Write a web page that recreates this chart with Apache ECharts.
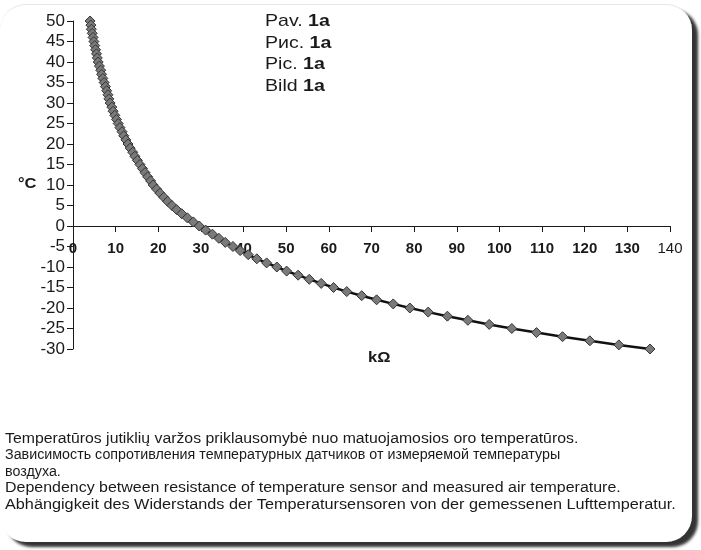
<!DOCTYPE html>
<html>
<head>
<meta charset="utf-8">
<script src="https://cdn.jsdelivr.net/npm/echarts@6/dist/echarts.min.js"></script>
<style>
  html, body { margin: 0; padding: 0; background: #ffffff; }
  #wrap { position: relative; width: 701px; height: 550px; overflow: hidden; }
  #card { position: absolute; left: 0px; top: 4px; width: 692px; height: 537px;
          background: #fff; border-radius: 26px; border-top: 1px solid #e6e6e6;
          box-shadow: 6px 5px 3px rgba(0,0,0,0.8); }
  #chart { position: absolute; left: 0; top: 0; width: 701px; height: 550px; }
</style>
</head>
<body>
<div id="wrap">
  <div id="card"></div>
  <div id="chart"></div>
</div>
<script>
// Temperature (°C) and sensor resistance (kΩ)
const temperatures = [50,49,48,47,46,45,44,43,42,41,40,39,38,37,36,35,34,33,32,31,30,29,28,27,26,25,24,23,22,21,20,19,18,17,16,15,14,13,12,11,10,9,8,7,6,5,4,3,2,1,0,-1,-2,-3,-4,-5,-6,-7,-8,-9,-10,-11,-12,-13,-14,-15,-16,-17,-18,-19,-20,-21,-22,-23,-24,-25,-26,-27,-28,-29,-30];
const resistances = [4.0,4.2,4.3,4.5,4.7,4.9,5.1,5.3,5.5,5.7,5.9,6.2,6.5,6.7,7.0,7.3,7.6,7.9,8.2,8.4,8.7,9.1,9.4,9.8,10.2,10.6,11.0,11.5,11.9,12.4,12.9,13.4,14.0,14.5,15.1,15.7,16.3,16.9,17.5,18.2,18.8,19.6,20.4,21.3,22.2,23.2,24.3,25.5,26.8,28.2,29.6,31.1,32.7,34.2,35.7,37.5,39.2,41.1,43.1,45.4,47.8,50.1,52.8,55.4,58.2,61.1,64.2,67.7,71.2,75.1,79.0,83.3,87.8,92.6,97.6,102.9,108.7,114.8,121.2,128.0,135.3];
const xMin = 0, xMax = 140, xStep = 10;
const yMin = -30, yMax = 50, yStep = 5;
const figureLabels = [["Pav. ", "1a"], ["Рис. ", "1a"], ["Pic. ", "1a"], ["Bild ", "1a"]];
const captionLines = [
  "Temperatūros jutiklių varžos priklausomybė nuo matuojamosios oro temperatūros.",
  "Зависимость сопротивления температурных датчиков от измеряемой температуры",
  "воздуха.",
  "Dependency between resistance of temperature sensor and measured air temperature.",
  "Abhängigkeit des Widerstands der Temperatursensoren von der gemessenen Lufttemperatur."
];
const captionScale = [1.13, 1.02, 1.02, 1.14, 1.16];
const yAxisName = "°C";
const xAxisName = "kΩ";

const FONT = "'Liberation Sans', Arial, sans-serif";
const INK = '#1a1a1a';
const seriesData = resistances.map((r, i) => [r, temperatures[i]]);

const W = 701, H = 550;
const gridTop = 21, gridBottom = 201, gridLeft = 73, gridRight = 31;
const plotH = H - gridTop - gridBottom;
const zeroOffset = -plotH * (0 - yMin) / (yMax - yMin);

const graphics = [];
figureLabels.forEach((p, i) => {
  graphics.push({
    type: 'text', x: 265, y: 13 + i * 21.5, scaleX: 1.15,
    style: { text: '{n|' + p[0] + '}{b|' + p[1] + '}',
      rich: { n: { fontFamily: FONT, fontSize: 17, fill: INK },
              b: { fontFamily: FONT, fontSize: 17, fontWeight: 'bold', fill: INK } } }
  });
});
captionLines.forEach((t, i) => {
  graphics.push({
    type: 'text', x: 5, y: 432 + i * 16.5, scaleX: captionScale[i],
    style: { text: t, fontFamily: FONT, fontSize: 14, fill: INK }
  });
});
graphics.push({ type: 'text', x: 18, y: 176, scaleX: 1.1,
  style: { text: yAxisName, fontFamily: FONT, fontSize: 15, fontWeight: 'bold', fill: INK } });
graphics.push({ type: 'text', x: 368, y: 350, scaleX: 1.1,
  style: { text: xAxisName, fontFamily: FONT, fontSize: 15, fontWeight: 'bold', fill: INK } });

const chart = echarts.init(document.getElementById('chart'));
chart.setOption({
  backgroundColor: 'transparent',
  animation: false,
  grid: { left: gridLeft, right: gridRight, top: gridTop, bottom: gridBottom },
  xAxis: {
    type: 'value', min: xMin, max: xMax, interval: xStep,
    offset: zeroOffset,
    axisLine: { onZero: false, lineStyle: { color: INK, width: 1 } },
    axisTick: { show: true, length: 6, lineStyle: { color: INK } },
    splitLine: { show: false },
    axisLabel: {
      margin: 15, fontFamily: FONT, fontSize: 15, color: INK,
      formatter: v => v < xMax ? '{b|' + v + '}' : '{n|' + v + '}',
      rich: { b: { fontFamily: FONT, fontSize: 15, fontWeight: 'bold', color: INK },
              n: { fontFamily: FONT, fontSize: 15, color: INK } }
    }
  },
  yAxis: {
    type: 'value', min: yMin, max: yMax, interval: yStep,
    axisLine: { show: true, onZero: false, lineStyle: { color: INK, width: 1 } },
    axisTick: { show: true, length: 6, lineStyle: { color: INK } },
    splitLine: { show: false },
    axisLabel: { margin: 8, fontFamily: FONT, fontSize: 17, color: INK }
  },
  series: [{
    type: 'line',
    data: seriesData,
    symbol: 'diamond',
    symbolSize: 10,
    showAllSymbol: true,
    lineStyle: { color: '#111', width: 2.5 },
    itemStyle: { color: '#7a7a7a', borderColor: '#333', borderWidth: 1 }
  }],
  graphic: graphics
});
</script>
</body>
</html>
